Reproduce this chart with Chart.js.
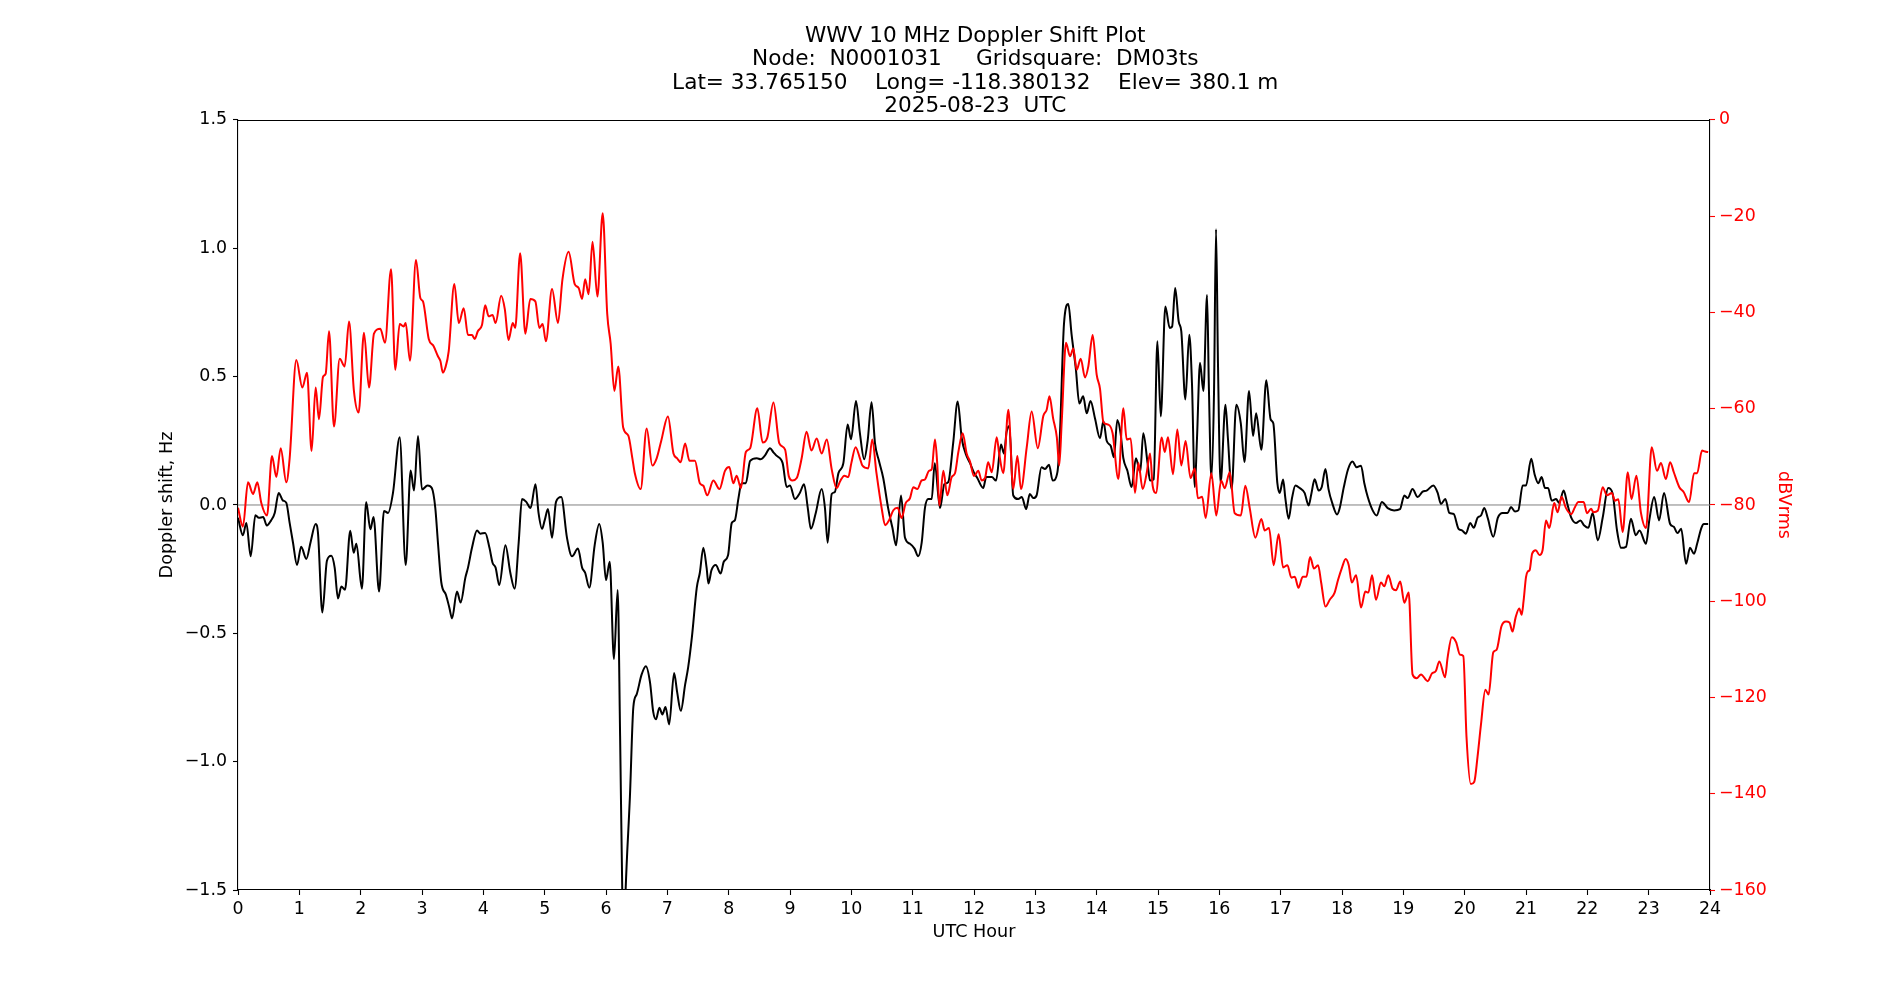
<!DOCTYPE html>
<html>
<head>
<meta charset="utf-8">
<script src="https://cdn.jsdelivr.net/npm/chart.js@4/dist/chart.umd.min.js"></script>
<style>
  html, body { margin: 0; padding: 0; background: #fff; }
  #wrap { width: 1900px; height: 1000px; }
</style>
</head>
<body>
<div id="wrap"><canvas id="c" width="1900" height="1000"></canvas></div>
<script>
const titleLines = [
  "WWV 10 MHz Doppler Shift Plot",
  "Node:  N0001031     Gridsquare:  DM03ts",
  "Lat= 33.765150    Long= -118.380132    Elev= 380.1 m",
  "2025-08-23  UTC"
];
const xLabel = "UTC Hour";
const yLeftLabel = "Doppler shift, Hz";
const yRightLabel = "dBVrms";

const hourTicks = [0,1,2,3,4,5,6,7,8,9,10,11,12,13,14,15,16,17,18,19,20,21,22,23,24];
const dopplerTicks = [-1.5,-1.0,-0.5,0.0,0.5,1.0,1.5];
const powerTicks = [-160,-140,-120,-100,-80,-60,-40,-20,0];

const zeroHours = [0, 24];
const zeroVals = [0, 0];

const dopHours = [
0.00,0.08,0.136,0.207,0.283,0.34,0.41,0.47,0.54,0.60,0.663,0.73,0.788,0.842,0.897,0.962,1.03,1.114,1.185,1.266,
1.304,1.375,1.45,1.52,1.576,1.63,1.685,1.745,1.83,1.886,1.93,2.02,2.09,2.158,2.21,2.30,2.38,2.446,2.527,2.636,
2.734,2.815,2.87,2.935,3.0,3.09,3.16,3.217,3.26,3.315,3.39,3.446,3.49,3.57,3.63,3.707,3.75,3.815,3.897,3.95,
4.03,4.10,4.15,4.20,4.26,4.36,4.44,4.51,4.576,4.63,4.70,4.77,4.85,4.90,4.957,5.0,5.054,5.12,5.185,5.27,
5.364,5.446,5.543,5.61,5.66,5.728,5.815,5.89,5.946,6.0,6.06,6.13,6.19,6.23,6.265,6.29,6.32,6.39,6.446,6.5,
6.58,6.65,6.717,6.77,6.815,6.87,6.92,6.97,7.03,7.11,7.16,7.22,7.29,7.34,7.40,7.48,7.53,7.587,7.64,7.67,
7.72,7.79,7.87,7.92,7.99,8.05,8.10,8.16,8.21,8.28,8.35,8.46,8.52,8.59,8.674,8.73,8.78,8.88,8.946,9.0,
9.08,9.16,9.23,9.29,9.34,9.42,9.516,9.57,9.614,9.68,9.73,9.79,9.87,9.94,9.995,10.076,10.14,10.21,10.266,10.33,
10.386,10.45,10.52,10.60,10.67,10.73,10.81,10.875,10.956,11.03,11.09,11.147,11.20,11.255,11.31,11.36,11.446,11.516,11.58,11.66,
11.734,11.80,11.864,11.935,12.0,12.054,12.15,12.2,12.29,12.36,12.44,12.49,12.53,12.576,12.64,12.72,12.78,12.85,12.91,12.967,
13.02,13.10,13.158,13.223,13.283,13.36,13.40,13.467,13.538,13.59,13.66,13.717,13.78,13.837,13.90,13.973,14.054,14.11,14.163,14.23,
14.28,14.337,14.39,14.435,14.50,14.57,14.64,14.71,14.76,14.83,14.87,14.93,14.99,15.045,15.12,15.19,15.23,15.28,15.337,15.38,
15.446,15.51,15.554,15.60,15.636,15.685,15.74,15.80,15.83,15.87,15.913,15.946,15.978,16.02,16.10,16.14,16.20,16.277,16.35,16.41,
16.484,16.55,16.60,16.685,16.766,16.837,16.88,16.946,16.984,17.04,17.076,17.13,17.185,17.24,17.31,17.39,17.456,17.50,17.554,17.62,
17.67,17.73,17.78,17.84,17.92,17.96,18.03,18.10,18.17,18.24,18.31,18.364,18.42,18.50,18.565,18.65,18.745,18.85,18.946,19.016,
19.07,19.15,19.234,19.315,19.38,19.49,19.56,19.614,19.685,19.75,19.82,19.90,19.957,20.02,20.09,20.147,20.21,20.266,20.32,20.375,
20.467,20.54,20.62,20.70,20.755,20.82,20.875,20.946,21.0,21.085,21.14,21.2,21.255,21.31,21.36,21.42,21.49,21.54,21.614,21.67,
21.734,21.815,21.886,21.95,22.016,22.087,22.17,22.25,22.34,22.41,22.484,22.55,22.63,22.71,22.79,22.85,22.957,23.01,23.09,23.17,
23.25,23.35,23.41,23.47,23.53,23.61,23.674,23.74,23.79,23.86,23.9,23.97
];
const dopShift = [
-0.05,-0.118,-0.07,-0.20,-0.04,-0.05,-0.047,-0.08,-0.06,-0.03,0.047,0.018,0.008,-0.07,-0.147,-0.234,-0.163,-0.21,-0.143,-0.074,
-0.109,-0.419,-0.217,-0.198,-0.244,-0.364,-0.318,-0.33,-0.10,-0.186,-0.151,-0.326,0.012,-0.095,-0.047,-0.337,-0.023,-0.031,0.047,0.264,
-0.234,0.134,0.056,0.269,0.06,0.076,0.066,-0.012,-0.147,-0.302,-0.35,-0.40,-0.442,-0.337,-0.38,-0.283,-0.244,-0.167,-0.099,-0.112,
-0.109,-0.167,-0.225,-0.244,-0.312,-0.157,-0.264,-0.326,-0.147,0.023,0.012,-0.012,0.081,-0.031,-0.093,-0.06,-0.016,-0.128,0.012,0.031,
-0.128,-0.20,-0.17,-0.244,-0.264,-0.322,-0.157,-0.074,-0.147,-0.293,-0.221,-0.60,-0.331,-0.90,-1.5,-1.75,-1.5,-1.136,-0.787,-0.738,
-0.661,-0.628,-0.69,-0.806,-0.835,-0.79,-0.816,-0.787,-0.855,-0.655,-0.729,-0.802,-0.70,-0.632,-0.516,-0.322,-0.264,-0.167,-0.244,-0.306,
-0.254,-0.234,-0.267,-0.221,-0.196,-0.07,-0.06,0.027,0.085,0.085,0.172,0.182,0.178,0.192,0.221,0.205,0.192,0.163,0.07,0.076,
0.023,0.047,0.081,-0.012,-0.093,-0.031,0.062,-0.012,-0.147,0.043,0.05,0.124,0.163,0.314,0.256,0.405,0.279,0.178,0.25,0.40,
0.24,0.172,0.105,-0.012,-0.089,-0.157,0.037,-0.128,-0.151,-0.17,-0.20,-0.147,-0.012,0.023,0.023,0.163,-0.012,0.081,0.089,0.24,
0.403,0.26,0.20,0.163,0.126,0.105,0.066,0.109,0.109,0.095,0.236,0.20,0.283,0.308,0.037,0.023,0.031,-0.016,0.043,0.027,
0.037,0.147,0.14,0.157,0.095,0.128,0.269,0.705,0.783,0.667,0.531,0.395,0.424,0.357,0.405,0.337,0.26,0.327,0.25,0.23,
0.186,0.331,0.279,0.182,0.134,0.07,0.182,0.128,0.279,0.163,0.095,0.10,0.638,0.345,0.773,0.69,0.695,0.845,0.715,0.676,
0.411,0.663,0.473,0.07,0.26,0.554,0.444,0.818,0.453,0.105,0.434,1.074,0.55,0.085,0.391,0.26,0.062,0.391,0.318,0.167,
0.444,0.269,0.357,0.215,0.486,0.333,0.318,0.085,0.047,0.099,0.027,-0.054,0.027,0.076,0.066,0.047,-0.002,0.043,0.10,0.056,
0.07,0.14,0.062,0.008,-0.037,-0.015,0.07,0.14,0.169,0.147,0.153,0.085,0.031,-0.021,-0.041,0.012,-0.012,-0.021,-0.016,0.037,
0.027,0.062,0.031,0.052,0.056,0.076,0.047,0.004,0.023,-0.031,-0.035,-0.093,-0.099,-0.112,-0.07,-0.089,-0.05,-0.041,-0.012,-0.05,
-0.124,-0.05,-0.031,-0.031,-0.008,-0.025,-0.021,0.076,0.076,0.18,0.12,0.085,0.109,0.066,0.066,0.017,0.023,0.008,0.056,0.008,
-0.047,-0.07,-0.06,-0.08,-0.089,-0.031,-0.138,-0.05,0.066,0.047,-0.099,-0.167,-0.163,-0.054,-0.118,-0.099,-0.151,-0.06,0.031,-0.06,
0.047,-0.074,-0.085,-0.109,-0.093,-0.229,-0.167,-0.19,-0.151,-0.089,-0.074,-0.074
];

const pwrHours = [
0.0,0.08,0.163,0.245,0.315,0.38,0.473,0.554,0.625,0.696,0.788,0.842,0.951,1.049,1.125,1.20,1.266,1.32,1.386,1.43,
1.484,1.565,1.658,1.74,1.81,1.89,1.967,2.054,2.136,2.217,2.32,2.397,2.495,2.565,2.636,2.70,2.734,2.804,2.902,2.973,
3.016,3.11,3.19,3.26,3.30,3.34,3.38,3.435,3.527,3.60,3.68,3.75,3.815,3.86,3.91,3.978,4.03,4.087,4.15,4.20,
4.29,4.35,4.41,4.48,4.52,4.60,4.685,4.766,4.848,4.913,4.967,5.02,5.12,5.217,5.29,5.39,5.49,5.554,5.61,5.66,
5.717,5.78,5.86,5.946,6.02,6.076,6.136,6.2,6.28,6.364,6.43,6.47,6.565,6.663,6.755,6.826,6.9,7.01,7.10,7.16,
7.217,7.29,7.36,7.45,7.53,7.587,7.65,7.75,7.85,7.94,8.01,8.076,8.13,8.20,8.28,8.35,8.467,8.554,8.63,8.73,
8.826,8.92,8.98,9.04,9.11,9.19,9.27,9.35,9.435,9.516,9.60,9.68,9.76,9.82,9.886,9.95,10.0,10.07,10.14,10.18,
10.277,10.34,10.41,10.50,10.55,10.614,10.685,10.755,10.82,10.886,10.956,11.01,11.076,11.147,11.20,11.266,11.31,11.364,11.40,11.435,
11.50,11.565,11.636,11.69,11.745,11.815,11.88,11.935,12.0,12.07,12.125,12.18,12.23,12.29,12.37,12.41,12.478,12.56,12.64,12.707,
12.766,12.86,12.94,13.04,13.13,13.185,13.23,13.29,13.35,13.39,13.43,13.50,13.565,13.62,13.674,13.74,13.81,13.864,13.935,14.0,
14.054,14.11,14.19,14.26,14.353,14.435,14.49,14.554,14.625,14.68,14.75,14.815,14.87,14.913,14.967,15.06,15.11,15.163,15.245,15.315,
15.38,15.45,15.53,15.60,15.65,15.72,15.777,15.87,15.95,16.03,16.087,16.17,16.25,16.35,16.424,16.495,16.587,16.685,16.74,16.81,
16.886,16.967,17.04,17.11,17.174,17.23,17.29,17.36,17.42,17.48,17.543,17.61,17.66,17.73,17.80,17.88,17.935,18.0,18.06,18.11,
18.16,18.23,18.31,18.38,18.43,18.49,18.554,18.636,18.69,18.755,18.826,18.88,18.95,19.016,19.087,19.15,19.217,19.288,19.397,19.467,
19.53,19.587,19.68,19.723,19.79,19.86,19.924,19.978,20.03,20.10,20.157,20.21,20.266,20.337,20.39,20.467,20.52,20.60,20.674,20.73,
20.78,20.83,20.89,20.93,20.96,21.0,21.03,21.06,21.10,21.16,21.22,21.27,21.326,21.38,21.46,21.516,21.58,21.65,21.734,21.80,
21.853,21.94,21.995,22.06,22.10,22.17,22.25,22.32,22.40,22.45,22.505,22.576,22.66,22.72,22.80,22.875,22.957,23.05,23.136,23.20,
23.28,23.35,23.41,23.50,23.57,23.66,23.74,23.79,23.87,23.92,23.97
];
const pwrDb = [
-80.6,-84.5,-75.3,-77.7,-75.3,-79.6,-82.2,-69.8,-74.2,-68.2,-75.3,-70.3,-49.9,-55.6,-52.5,-68.8,-55.6,-62.2,-53.4,-52.7,
-43.9,-63.7,-49.6,-51.2,-41.9,-56.3,-60.8,-44.2,-55.6,-44.4,-43.4,-46.3,-31.0,-51.9,-42.4,-42.9,-42.2,-50.0,-29.1,-37.0,
-37.7,-45.5,-47.0,-49.1,-50.1,-52.5,-51.5,-48.1,-34.1,-42.2,-39.1,-44.7,-44.7,-45.5,-43.9,-42.6,-38.5,-40.8,-40.5,-42.2,
-36.5,-39.3,-45.7,-42.2,-43.2,-27.7,-44.4,-37.2,-37.7,-43.2,-42.4,-46.0,-35.1,-42.2,-33.1,-27.4,-34.1,-34.9,-37.2,-33.1,
-36.2,-25.3,-36.7,-19.4,-40.3,-46.5,-56.3,-51.2,-63.9,-65.6,-70.3,-73.4,-76.7,-64.1,-71.8,-70.3,-66.7,-61.6,-69.3,-70.3,
-71.1,-67.2,-70.8,-70.8,-75.5,-76.0,-78.0,-74.9,-76.7,-72.9,-72.1,-75.5,-73.9,-76.5,-69.0,-68.2,-59.9,-67.0,-66.0,-58.7,
-67.2,-68.5,-74.0,-74.9,-74.4,-70.3,-64.8,-68.7,-66.2,-69.3,-66.4,-72.6,-76.5,-75.0,-73.9,-74.2,-71.3,-68.0,-70.3,-71.8,
-72.4,-66.4,-73.4,-81.1,-84.2,-83.2,-81.1,-80.6,-82.7,-79.6,-78.6,-76.3,-76.7,-74.9,-74.7,-72.9,-72.6,-66.4,-71.3,-80.1,
-72.9,-78.0,-74.2,-73.4,-69.0,-65.1,-69.3,-71.0,-74.0,-72.9,-74.9,-74.4,-71.1,-73.2,-65.9,-69.3,-73.4,-60.2,-76.7,-69.8,
-76.7,-68.0,-60.6,-68.2,-61.5,-60.2,-57.4,-62.0,-65.9,-71.8,-62.8,-46.3,-49.1,-47.5,-51.9,-49.6,-53.5,-51.2,-44.7,-52.9,
-55.8,-62.8,-63.3,-65.1,-74.6,-59.9,-66.4,-66.2,-77.5,-71.3,-76.7,-73.4,-69.3,-76.0,-77.5,-66.0,-69.0,-65.9,-73.6,-64.3,
-71.8,-66.7,-74.4,-72.4,-78.6,-78.3,-82.7,-73.4,-82.2,-74.9,-76.5,-73.2,-81.7,-82.2,-76.0,-80.6,-86.8,-82.9,-85.3,-84.8,
-92.5,-86.1,-93.0,-92.5,-95.1,-94.9,-97.2,-94.9,-94.9,-90.8,-93.2,-92.5,-96.1,-101.1,-99.7,-98.2,-95.6,-93.0,-91.2,-92.5,
-96.1,-94.6,-101.3,-98.0,-98.2,-94.6,-99.7,-96.1,-96.9,-94.6,-97.4,-97.7,-95.9,-100.3,-98.2,-115.2,-116.0,-115.2,-116.6,-115.0,
-114.5,-112.5,-115.8,-111.6,-107.5,-108.5,-111.1,-111.4,-128.2,-138.0,-137.5,-132.3,-125.6,-118.4,-119.4,-110.6,-110.1,-105.2,-104.2,-104.4,
-106.3,-103.4,-101.5,-102.8,-100.0,-95.0,-93.8,-93.5,-90.1,-89.4,-90.4,-89.4,-83.2,-84.8,-79.6,-81.5,-78.3,-80.6,-81.9,-80.4,
-79.4,-79.4,-81.7,-80.8,-81.5,-81.2,-76.3,-78.0,-77.5,-79.1,-78.8,-85.6,-73.2,-78.8,-73.9,-81.7,-84.8,-68.0,-72.9,-71.3,
-74.6,-71.1,-73.2,-76.3,-77.3,-79.4,-73.4,-73.4,-68.7,-68.9,-69.0
];

const FONT = "DejaVu Sans";
const TICK_SIZE = 17.4;
const LABEL_SIZE = 17.6;
const minus = s => String(s).replace('-', '\u2212');
const pairs = (xs, ys) => xs.map((x, i) => ({x: x, y: ys[i]}));

Chart.defaults.font.family = FONT;
Chart.defaults.font.size = TICK_SIZE;
Chart.defaults.color = '#000';

const framePlugin = {
  id: 'frame',
  afterDraw(chart) {
    const a = chart.chartArea, ctx = chart.ctx;
    ctx.save();
    ctx.strokeStyle = '#000';
    ctx.lineWidth = 1.1;
    ctx.beginPath();
    ctx.moveTo(a.left, a.top + 0.5);
    ctx.lineTo(a.right, a.top + 0.5);
    ctx.stroke();
    ctx.restore();
  }
};

new Chart(document.getElementById('c'), {
  type: 'line',
  data: {
    datasets: [
      {
        data: pairs(pwrHours, pwrDb), yAxisID: 'y2', borderColor: '#ff0000', borderWidth: 2,
        pointRadius: 0, cubicInterpolationMode: 'monotone', order: 0, clip: 0
      },
      {
        data: pairs(dopHours, dopShift), yAxisID: 'y', borderColor: '#000000', borderWidth: 2,
        pointRadius: 0, cubicInterpolationMode: 'monotone', order: 1, clip: 0
      },
      {
        data: pairs(zeroHours, zeroVals), yAxisID: 'y', borderColor: '#808080', borderWidth: 1,
        pointRadius: 0, order: 2, clip: 0
      }
    ]
  },
  options: {
    responsive: false,
    animation: false,
    devicePixelRatio: 1,
    layout: { padding: { left: 152.5, right: 102, top: 24.5, bottom: 53.5 } },
    plugins: {
      legend: { display: false },
      tooltip: { enabled: false },
      title: {
        display: true,
        text: titleLines,
        color: '#000',
        font: { family: FONT, size: 21.6, weight: 'normal', lineHeight: 1.083 },
        padding: { top: 0, bottom: 1.9 }
      }
    },
    scales: {
      x: {
        type: 'linear', min: 0, max: 24,
        afterFit: s => { s.height = 56.5; },
        afterBuildTicks: s => { s.ticks = hourTicks.map(v => ({value: v})); },
        ticks: { padding: 4, maxRotation: 0, autoSkip: false, callback: v => String(v), font: { size: TICK_SIZE } },
        grid: { drawOnChartArea: false, drawTicks: true, tickLength: 5, tickColor: '#000', tickWidth: 1.1 },
        border: { display: true, color: '#000', width: 1.1 },
        title: { display: true, text: xLabel, font: { size: LABEL_SIZE }, padding: { top: 4, bottom: 4 } }
      },
      y: {
        type: 'linear', position: 'left', min: -1.5, max: 1.5,
        afterFit: s => { s.width = 85.5; },
        afterBuildTicks: s => { s.ticks = dopplerTicks.map(v => ({value: v})); },
        ticks: { padding: 6, autoSkip: false, callback: v => minus(Number(v).toFixed(1)), font: { size: TICK_SIZE } },
        grid: { drawOnChartArea: false, drawTicks: true, tickLength: 5, tickColor: '#000', tickWidth: 1.1 },
        border: { display: true, color: '#000', width: 1.1 },
        title: { display: true, text: yLeftLabel, font: { size: LABEL_SIZE }, padding: { top: 4, bottom: 4 } }
      },
      y2: {
        type: 'linear', position: 'right', min: -160, max: 0,
        afterFit: s => { s.width = 88; },
        afterBuildTicks: s => { s.ticks = powerTicks.map(v => ({value: v})); },
        ticks: { padding: 4, autoSkip: false, color: '#ff0000', callback: v => minus(String(v)), font: { size: TICK_SIZE } },
        grid: { drawOnChartArea: false, drawTicks: true, tickLength: 5, tickColor: '#ff0000', tickWidth: 1.1 },
        border: { display: true, color: '#000', width: 1.1 },
        title: { display: true, text: yRightLabel, color: '#ff0000', font: { size: LABEL_SIZE }, padding: { top: 4, bottom: 4 } }
      }
    }
  },
  plugins: [framePlugin]
});
</script>
</body>
</html>
